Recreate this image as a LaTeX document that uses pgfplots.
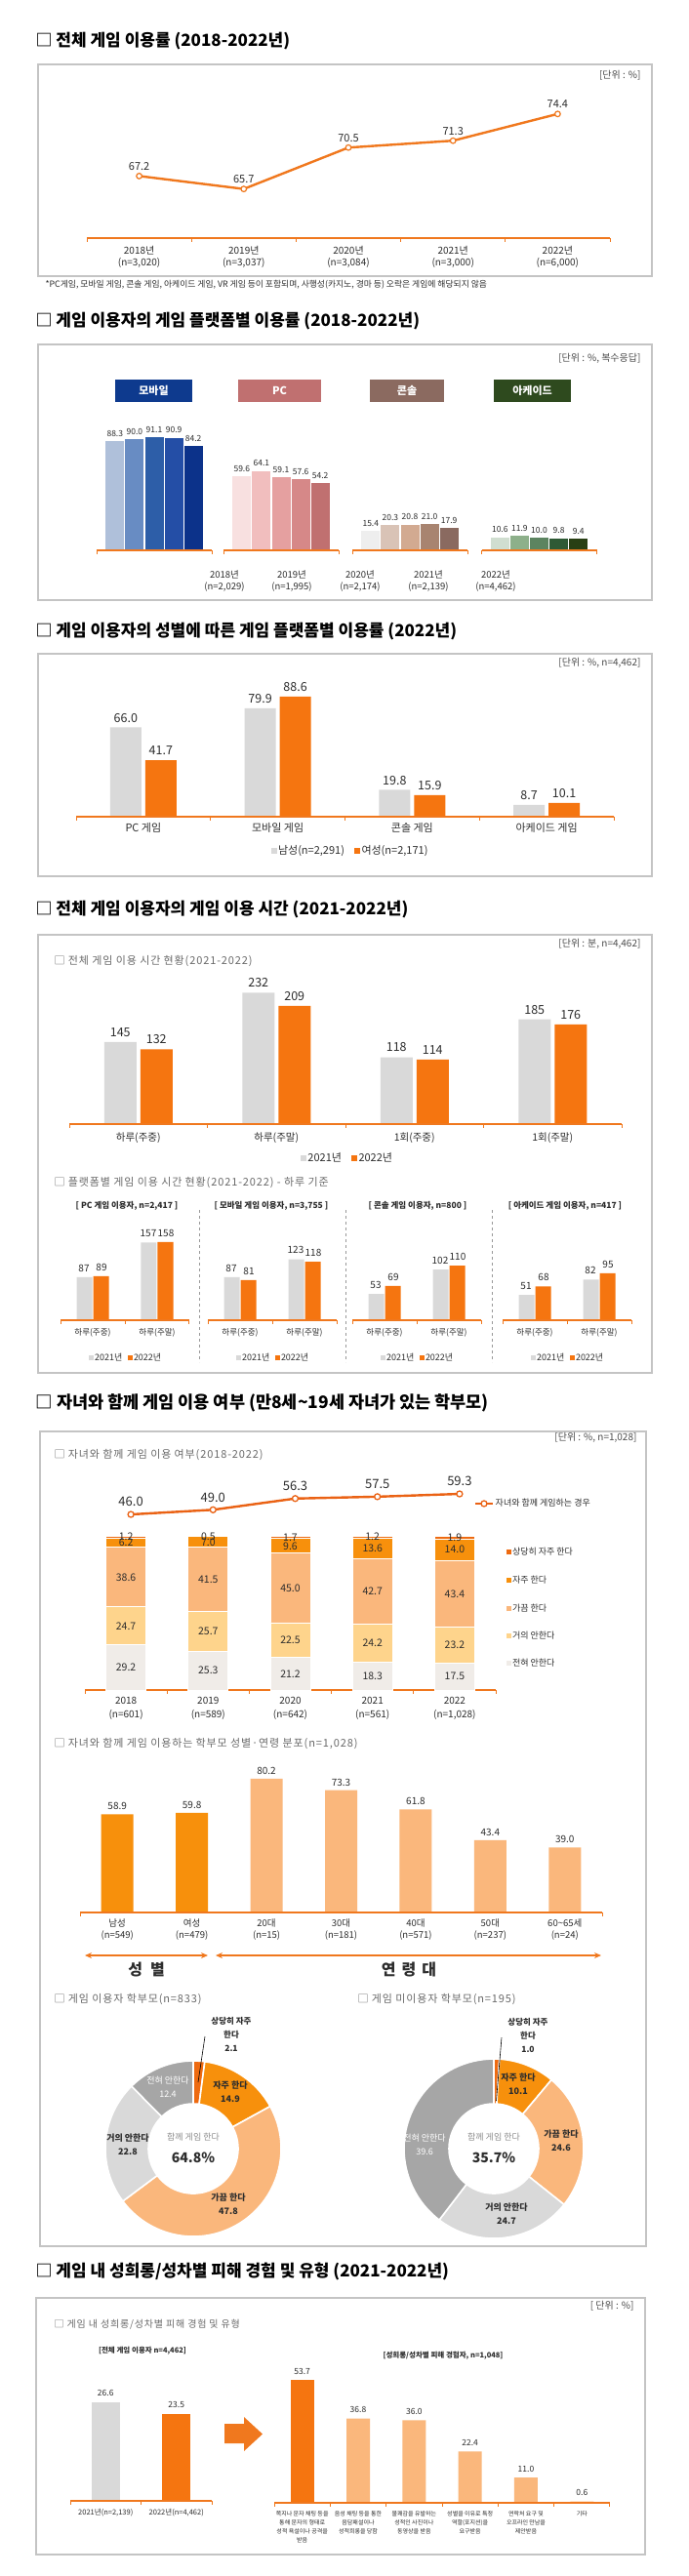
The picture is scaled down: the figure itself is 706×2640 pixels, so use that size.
\documentclass[border=0pt]{standalone}
\usepackage{pgfplots}
\pgfplotsset{compat=1.18}
\usepackage{fontspec}
\setmainfont{Noto Sans CJK KR}
\newfontfamily\subf[LetterSpace=8]{Noto Sans CJK KR}
\usetikzlibrary{arrows.meta}
\definecolor{org}{RGB}{245,117,16}
\definecolor{orgL}{RGB}{240,120,30}
\definecolor{orgR}{RGB}{234,98,20}
\definecolor{gry}{RGB}{217,217,217}
\definecolor{frm}{RGB}{196,196,196}
\definecolor{txt}{RGB}{45,45,45}
\definecolor{subc}{RGB}{105,105,105}
\definecolor{m1}{RGB}{175,192,218}
\definecolor{m2}{RGB}{104,140,195}
\definecolor{m3}{RGB}{45,94,168}
\definecolor{m4}{RGB}{36,78,166}
\definecolor{m5}{RGB}{12,50,138}
\definecolor{p1}{RGB}{248,224,224}
\definecolor{p2}{RGB}{241,190,190}
\definecolor{p3}{RGB}{229,160,160}
\definecolor{p4}{RGB}{214,136,136}
\definecolor{p5}{RGB}{192,112,112}
\definecolor{k1}{RGB}{238,238,238}
\definecolor{k2}{RGB}{217,195,182}
\definecolor{k3}{RGB}{210,170,145}
\definecolor{k4}{RGB}{168,132,112}
\definecolor{k5}{RGB}{138,106,96}
\definecolor{a1}{RGB}{208,222,208}
\definecolor{a2}{RGB}{141,176,138}
\definecolor{a3}{RGB}{92,132,96}
\definecolor{a4}{RGB}{46,90,53}
\definecolor{a5}{RGB}{40,63,20}
\definecolor{hm}{RGB}{14,58,142}
\definecolor{hp}{RGB}{192,112,112}
\definecolor{hk}{RGB}{139,106,96}
\definecolor{ha}{RGB}{46,74,30}
\definecolor{s5}{RGB}{238,106,16}
\definecolor{s4}{RGB}{247,144,12}
\definecolor{s3}{RGB}{250,183,124}
\definecolor{s2}{RGB}{254,212,140}
\definecolor{s1}{RGB}{240,236,232}
\definecolor{dg}{RGB}{166,166,166}

\newcommand\fs[1]{\fontsize{#1}{\fpeval{#1*1.22}}\selectfont}
\newcommand\sq[2]{\textcolor{#1}{\rule{#2}{#2}}\hspace{1.5pt}}
\newcommand\obase[4]{%
  \draw[orgL, line width=1.4pt] (axis cs:#1,#4) -- (axis cs:#2,#4);
  \pgfplotsinvokeforeach{#3}{\draw[orgL, line width=1pt] (axis cs:##1,#4) -- ++(0pt,-3.5pt);}%
}
\newcommand\slice[3]{%
  \fill[#3, draw=white, line width=1.6pt] ({90-3.6*#1}:\Ro) arc[start angle={90-3.6*#1}, end angle={90-3.6*#2}, radius=\Ro] -- ({90-3.6*#2}:\Ri) arc[start angle={90-3.6*#2}, end angle={90-3.6*#1}, radius=\Ri] -- cycle;%
}
\pgfplotsset{
  cat/.style={scale only axis, anchor=south west, clip=false, axis line style={draw=none}, ytick=\empty, tick style={draw=none}, major tick length=0pt, ymin=0, xticklabel style={text=txt}},
  bars/.style={every axis plot/.append style={ybar, bar width=#1, bar shift=0pt, draw=none}},
  dec1/.style={nodes near coords={\pgfmathprintnumber[fixed,fixed zerofill,precision=1,assume math mode=true]{\pgfplotspointmeta}}},
  dec0/.style={nodes near coords={\pgfmathprintnumber[fixed,precision=0,assume math mode=true]{\pgfplotspointmeta}}},
  grp/.style={scale only axis, anchor=south west, clip=false, hide axis, width=118pt, height=127pt, xmin=-0.935, xmax=4.935, ymin=0, ymax=100, bars=19pt, dec1, nodes near coords style={font=\fs{8.5}, text=txt, yshift=1pt}},
  pan/.style={cat, width=132pt, height=101.6pt, xmin=-0.5, xmax=1.5, ymax=200, xtick={0,1}, xticklabels={하루(주중),하루(주말)}, xticklabel style={font=\fs{8.5}, yshift=-5pt}, bars=16pt, dec0, nodes near coords style={font=\fs{10}, text=txt, yshift=2pt}},
  nx/.style={every node near coord/.append style={xshift=#1}},
  seglab/.style={draw=none, mark=none, nodes near coords, point meta=explicit symbolic, nodes near coords style={anchor=center, font=\fs{10.5}, text=txt, inner sep=0pt}},
}

\begin{document}
\begin{tikzpicture}
\useasboundingbox (0pt,0pt) rectangle (706pt,-2640pt);
\fill[white] (0pt,0pt) rectangle (706pt,-2640pt);

% ================= Section 1
\node[anchor=west, font=\fs{17}\bfseries, text=black] at (33pt,-42pt) {□ 전체 게임 이용률 (2018-2022년)};
\draw[frm, line width=1.3pt] (39pt,-66pt) rectangle (668pt,-283pt);
\node[anchor=east, font=\fs{10}, text=black!70] at (660pt,-77pt) {[단위 : \%]};
\begin{axis}[cat, at={(89pt,-244pt)}, width=536pt, height=159pt, xmin=-0.5, xmax=4.5, ymin=60, ymax=78,
  xtick={0,...,4},
  xticklabels={{2018년\\(n=3,020)},{2019년\\(n=3,037)},{2020년\\(n=3,084)},{2021년\\(n=3,000)},{2022년\\(n=6,000)}},
  xticklabel style={align=center, font=\fontsize{10}{12.5}\selectfont, yshift=-4.5pt}]
\addplot[orgL, line width=2.4pt, mark=*, mark size=2.8pt, mark options={fill=white, draw=orgL, line width=1.2pt}, dec1, nodes near coords style={font=\fs{11}, text=txt, yshift=2pt}] coordinates {(0,67.2) (1,65.7) (2,70.5) (3,71.3) (4,74.4)};
\obase{-0.5}{4.5}{-0.5,0.5,...,4.5}{60}
\end{axis}
\node[anchor=west, font=\fs{8.8}, text=txt] at (43pt,-292pt) {*PC게임, 모바일 게임, 콘솔 게임, 아케이드 게임, VR 게임 등이 포함되며, 사행성(카지노, 경마 등) 오락은 게임에 해당되지 않음};

% ================= Section 2
\node[anchor=west, font=\fs{17}\bfseries] at (33pt,-329pt) {□ 게임 이용자의 게임 플랫폼별 이용률 (2018-2022년)};
\draw[frm, line width=1.3pt] (39pt,-353pt) rectangle (668pt,-615pt);
\node[anchor=east, font=\fs{10}, text=black!70] at (660pt,-367pt) {[단위 : \%, 복수응답]};
\node[fill=hm, text=white, minimum width=79pt, minimum height=23pt, inner sep=0pt, font=\fs{11}\bfseries] at (157.5pt,-400.5pt) {모바일};
\node[fill=hp, text=white, minimum width=85pt, minimum height=23pt, inner sep=0pt, font=\fs{11}\bfseries] at (286.5pt,-400.5pt) {PC};
\node[fill=hk, text=white, minimum width=76pt, minimum height=23pt, inner sep=0pt, font=\fs{11}\bfseries] at (417pt,-400.5pt) {콘솔};
\node[fill=ha, text=white, minimum width=79pt, minimum height=23pt, inner sep=0pt, font=\fs{11}\bfseries] at (545.5pt,-400.5pt) {아케이드};
\begin{axis}[grp, at={(99pt,-564pt)}]
\addplot[fill=m1] coordinates {(0,88.3)};
\addplot[fill=m2] coordinates {(1,90.0)};
\addplot[fill=m3] coordinates {(2,91.1)};
\addplot[fill=m4] coordinates {(3,90.9)};
\addplot[fill=m5] coordinates {(4,84.2)};
\obase{-0.935}{4.935}{-0.935,4.935}{0}
\end{axis}
\begin{axis}[grp, at={(229pt,-564pt)}]
\addplot[fill=p1] coordinates {(0,59.6)};
\addplot[fill=p2] coordinates {(1,64.1)};
\addplot[fill=p3] coordinates {(2,59.1)};
\addplot[fill=p4] coordinates {(3,57.6)};
\addplot[fill=p5] coordinates {(4,54.2)};
\obase{-0.935}{4.935}{-0.935,4.935}{0}
\end{axis}
\begin{axis}[grp, at={(361pt,-564pt)}]
\addplot[fill=k1] coordinates {(0,15.4)};
\addplot[fill=k2] coordinates {(1,20.3)};
\addplot[fill=k3] coordinates {(2,20.8)};
\addplot[fill=k4] coordinates {(3,21.0)};
\addplot[fill=k5] coordinates {(4,17.9)};
\obase{-0.935}{4.935}{-0.935,4.935}{0}
\end{axis}
\begin{axis}[grp, at={(493.5pt,-564pt)}]
\addplot[fill=a1] coordinates {(0,10.6)};
\addplot[fill=a2] coordinates {(1,11.9)};
\addplot[fill=a3] coordinates {(2,10.0)};
\addplot[fill=a4] coordinates {(3,9.8)};
\addplot[fill=a5] coordinates {(4,9.4)};
\obase{-0.935}{4.935}{-0.935,4.935}{0}
\end{axis}
\node[align=center, font=\fontsize{9.5}{12}\selectfont, text=txt] at (230pt,-595pt) {2018년\\(n=2,029)};
\node[align=center, font=\fontsize{9.5}{12}\selectfont, text=txt] at (299pt,-595pt) {2019년\\(n=1,995)};
\node[align=center, font=\fontsize{9.5}{12}\selectfont, text=txt] at (369pt,-595pt) {2020년\\(n=2,174)};
\node[align=center, font=\fontsize{9.5}{12}\selectfont, text=txt] at (439pt,-595pt) {2021년\\(n=2,139)};
\node[align=center, font=\fontsize{9.5}{12}\selectfont, text=txt] at (508pt,-595pt) {2022년\\(n=4,462)};

% ================= Section 3
\node[anchor=west, font=\fs{17}\bfseries] at (33pt,-647pt) {□ 게임 이용자의 성별에 따른 게임 플랫폼별 이용률 (2022년)};
\draw[frm, line width=1.3pt] (39pt,-670pt) rectangle (668pt,-898pt);
\node[anchor=east, font=\fs{10}, text=black!70] at (660pt,-679pt) {[단위 : \%, n=4,462]};
\begin{axis}[cat, at={(78pt,-837pt)}, width=551pt, height=139pt, xmin=-0.5, xmax=3.5, ymax=100,
  xtick={0,...,3}, xticklabels={PC 게임,모바일 게임,콘솔 게임,아케이드 게임},
  xticklabel style={font=\fs{11}, yshift=-3pt}, bars=32pt, dec1, nodes near coords style={font=\fs{12.5}, text=txt, yshift=1.5pt}]
\addplot[fill=gry, bar shift=-18pt, nx=-18pt] coordinates {(0,66.0) (1,79.9) (2,19.8) (3,8.7)};
\addplot[fill=org, bar shift=18pt, nx=18pt] coordinates {(0,41.7) (1,88.6) (2,15.9) (3,10.1)};
\obase{-0.5}{3.5}{-0.5,0.5,...,3.5}{0}
\end{axis}
\node[font=\fs{11}, text=txt] at (358pt,-872pt) {\sq{gry}{6pt}남성(n=2,291)\hspace{10pt}\sq{org}{6pt}여성(n=2,171)};

% ================= Section 4
\node[anchor=west, font=\fs{17}\bfseries] at (33pt,-932pt) {□ 전체 게임 이용자의 게임 이용 시간 (2021-2022년)};
\draw[frm, line width=1.3pt] (39pt,-958pt) rectangle (668pt,-1407pt);
\node[anchor=east, font=\fs{10}, text=black!70] at (660pt,-967pt) {[단위 : 분, n=4,462]};
\node[anchor=west, font=\subf\fs{11}, text=subc] at (52pt,-985pt) {□ 전체 게임 이용 시간 현황(2021-2022)};
\begin{axis}[cat, at={(71pt,-1152pt)}, width=566pt, height=145pt, xmin=-0.5, xmax=3.5, ymax=250,
  xtick={0,...,3}, xticklabels={하루(주중),하루(주말),1회(주중),1회(주말)},
  xticklabel style={font=\fs{10.5}, yshift=-5pt}, bars=33pt, dec0, nodes near coords style={font=\fs{12.5}, text=txt, yshift=2pt}]
\addplot[fill=gry, bar shift=-18.5pt, nx=-18.5pt] coordinates {(0,145) (1,232) (2,118) (3,185)};
\addplot[fill=org, bar shift=18.5pt, nx=18.5pt] coordinates {(0,132) (1,209) (2,114) (3,176)};
\obase{-0.5}{3.5}{-0.5,0.5,...,3.5}{0}
\end{axis}
\node[font=\fs{11}, text=txt] at (355pt,-1186pt) {\sq{gry}{6pt}2021년\hspace{10pt}\sq{org}{6pt}2022년};
\node[anchor=west, font=\subf\fs{11}, text=subc] at (52pt,-1212pt) {□ 플랫폼별 게임 이용 시간 현황(2021-2022) - 하루 기준};
\node[font=\fs{8.5}\bfseries, text=txt] at (130pt,-1236pt) {[ PC 게임 이용자, n=2,417 ]};
\node[font=\fs{8.5}\bfseries, text=txt] at (278pt,-1236pt) {[ 모바일 게임 이용자, n=3,755 ]};
\node[font=\fs{8.5}\bfseries, text=txt] at (428pt,-1236pt) {[ 콘솔 게임 이용자, n=800 ]};
\node[font=\fs{8.5}\bfseries, text=txt] at (579pt,-1236pt) {[ 아케이드 게임 이용자, n=417 ]};
\draw[black!40, dashed, line width=0.9pt] (204pt,-1240pt) -- (204pt,-1396pt);
\draw[black!40, dashed, line width=0.9pt] (354pt,-1240pt) -- (354pt,-1396pt);
\draw[black!40, dashed, line width=0.9pt] (504pt,-1240pt) -- (504pt,-1396pt);
\begin{axis}[pan, at={(62pt,-1353pt)}]
\addplot[fill=gry, bar shift=-8.5pt, nx=-9pt] coordinates {(0,87) (1,157)};
\addplot[fill=org, bar shift=8.5pt, nx=9pt] coordinates {(0,89) (1,158)};
\obase{-0.5}{1.5}{-0.5,0.5,1.5}{0}
\end{axis}
\begin{axis}[pan, at={(213pt,-1353pt)}]
\addplot[fill=gry, bar shift=-8.5pt, nx=-9pt] coordinates {(0,87) (1,123)};
\addplot[fill=org, bar shift=8.5pt, nx=9pt] coordinates {(0,81) (1,118)};
\obase{-0.5}{1.5}{-0.5,0.5,1.5}{0}
\end{axis}
\begin{axis}[pan, at={(361pt,-1353pt)}]
\addplot[fill=gry, bar shift=-8.5pt, nx=-9pt] coordinates {(0,53) (1,102)};
\addplot[fill=org, bar shift=8.5pt, nx=9pt] coordinates {(0,69) (1,110)};
\obase{-0.5}{1.5}{-0.5,0.5,1.5}{0}
\end{axis}
\begin{axis}[pan, at={(515pt,-1353pt)}]
\addplot[fill=gry, bar shift=-8.5pt, nx=-9pt] coordinates {(0,51) (1,82)};
\addplot[fill=org, bar shift=8.5pt, nx=9pt] coordinates {(0,68) (1,95)};
\obase{-0.5}{1.5}{-0.5,0.5,1.5}{0}
\end{axis}
\node[font=\fs{9}, text=txt] at (128pt,-1391pt) {\sq{gry}{5pt}2021년\hspace{5pt}\sq{org}{5pt}2022년};
\node[font=\fs{9}, text=txt] at (279pt,-1391pt) {\sq{gry}{5pt}2021년\hspace{5pt}\sq{org}{5pt}2022년};
\node[font=\fs{9}, text=txt] at (427pt,-1391pt) {\sq{gry}{5pt}2021년\hspace{5pt}\sq{org}{5pt}2022년};
\node[font=\fs{9}, text=txt] at (581pt,-1391pt) {\sq{gry}{5pt}2021년\hspace{5pt}\sq{org}{5pt}2022년};

% ================= Section 5
\node[anchor=west, font=\fs{17.5}\bfseries] at (33pt,-1438pt) {□ 자녀와 함께 게임 이용 여부 (만8세\textasciitilde19세 자녀가 있는 학부모)};
\draw[frm, line width=1.3pt] (41pt,-1467pt) rectangle (662pt,-2302pt);
\node[anchor=east, font=\fs{10}, text=black!70] at (656pt,-1473pt) {[단위 : \%, n=1,028]};
\node[anchor=west, font=\subf\fs{11}, text=subc] at (52pt,-1491pt) {□ 자녀와 함께 게임 이용 여부(2018-2022)};
\begin{axis}[scale only axis, anchor=south west, hide axis, clip=false, at={(92pt,-1561.5pt)}, width=421pt, height=31.6pt,
  xmin=-0.5, xmax=4.5, ymin=40, ymax=60,
  legend style={at={(0.936,0.65)}, anchor=west, draw=none, fill=none, font=\fs{9}, text=txt, inner sep=0pt}]
\addplot[orgR, line width=2.4pt, mark=*, mark size=3pt, mark options={fill=white, draw=orgR, line width=1.3pt}, dec1, nodes near coords style={font=\fs{13}, text=txt, yshift=4pt}] coordinates {(0,46.0) (1,49.0) (2,56.3) (3,57.5) (4,59.3)};
\addlegendentry{자녀와 함께 게임하는 경우}
\end{axis}
\begin{axis}[cat, at={(87pt,-1732pt)}, width=421pt, height=158pt, xmin=-0.5, xmax=4.5, ymax=100,
  ybar stacked, bar width=41pt, xtick={0,...,4},
  xticklabels={{2018\\(n=601)},{2019\\(n=589)},{2020\\(n=642)},{2021\\(n=561)},{2022\\(n=1,028)}},
  xticklabel style={align=center, font=\fontsize{10}{14}\selectfont, yshift=-4pt},
  every axis plot/.append style={draw=white, line width=0.8pt}]
\addplot[fill=s1] coordinates {(0,29.2) (1,25.3) (2,21.2) (3,18.3) (4,17.5)};
\addplot[fill=s2] coordinates {(0,24.7) (1,25.7) (2,22.5) (3,24.2) (4,23.2)};
\addplot[fill=s3] coordinates {(0,38.6) (1,41.5) (2,45.0) (3,42.7) (4,43.4)};
\addplot[fill=s4] coordinates {(0,6.2) (1,7.0) (2,9.6) (3,13.6) (4,14.0)};
\addplot[fill=s5, dec1, nodes near coords style={font=\fs{10.5}, text=txt, inner sep=1.5pt}] coordinates {(0,1.2) (1,0.5) (2,1.7) (3,1.2) (4,1.9)};
\obase{-0.5}{4.5}{-0.5,0.5,...,4.5}{0}
\end{axis}
% segment labels, placed at the middle of each segment
\begin{axis}[scale only axis, anchor=south west, hide axis, clip=false, at={(87pt,-1732pt)}, width=421pt, height=158pt, xmin=-0.5, xmax=4.5, ymin=0, ymax=100]
\addplot[seglab] coordinates {(0,14.6)[29.2] (1,12.65)[25.3] (2,10.6)[21.2] (3,9.15)[18.3] (4,8.75)[17.5]};
\addplot[seglab] coordinates {(0,41.55)[24.7] (1,38.15)[25.7] (2,32.45)[22.5] (3,30.4)[24.2] (4,29.1)[23.2]};
\addplot[seglab] coordinates {(0,73.2)[38.6] (1,71.75)[41.5] (2,66.2)[45.0] (3,63.85)[42.7] (4,62.4)[43.4]};
\addplot[seglab] coordinates {(0,95.6)[6.2] (1,96.0)[7.0] (2,93.5)[9.6] (3,92.0)[13.6] (4,91.1)[14.0]};
\end{axis}
\node[anchor=west, font=\fs{9}, text=txt] at (515pt,-1590pt) {\sq{s5}{5pt}상당히 자주 한다};
\node[anchor=west, font=\fs{9}, text=txt] at (515pt,-1619pt) {\sq{s4}{5pt}자주 한다};
\node[anchor=west, font=\fs{9}, text=txt] at (515pt,-1648pt) {\sq{s3}{5pt}가끔 한다};
\node[anchor=west, font=\fs{9}, text=txt] at (515pt,-1676pt) {\sq{s2}{5pt}거의 안한다};
\node[anchor=west, font=\fs{9}, text=txt] at (515pt,-1704pt) {\sq{s1}{5pt}전혀 안한다};

\node[anchor=west, font=\subf\fs{11}, text=subc] at (52pt,-1787pt) {□ 자녀와 함께 게임 이용하는 학부모 성별·연령 분포(n=1,028)};
\begin{axis}[cat, at={(82pt,-1960pt)}, width=535pt, height=171pt, xmin=-0.5, xmax=6.5, ymax=100,
  xtick={0,...,6},
  xticklabels={{남성\\(n=549)},{여성\\(n=479)},{20대\\(n=15)},{30대\\(n=181)},{40대\\(n=571)},{50대\\(n=237)},{60\textasciitilde65세\\(n=24)}},
  xticklabel style={align=center, font=\fontsize{9.5}{12}\selectfont, yshift=-3pt},
  bars=33pt, dec1, nodes near coords style={font=\fs{10}, text=txt, yshift=1pt}]
\addplot[fill=s4] coordinates {(0,58.9) (1,59.8)};
\addplot[fill=s3] coordinates {(2,80.2) (3,73.3) (4,61.8) (5,43.4) (6,39.0)};
\obase{-0.5}{6.5}{-0.5,6.5}{0}
\end{axis}
\draw[orgL, line width=1.6pt, {Stealth[length=7pt,width=6pt]}-{Stealth[length=7pt,width=6pt]}] (87pt,-2004pt) -- (213pt,-2004pt);
\draw[orgL, line width=1.6pt, {Stealth[length=7pt,width=6pt]}-{Stealth[length=7pt,width=6pt]}] (221pt,-2004pt) -- (616pt,-2004pt);
\node[font=\fs{16}\bfseries, text=txt] at (150pt,-2018pt) {성\hspace{8pt}별};
\node[font=\fs{16}\bfseries, text=txt] at (419pt,-2018pt) {연\hspace{6pt}령\hspace{6pt}대};
\node[anchor=west, font=\subf\fs{11}, text=subc] at (52pt,-2049pt) {□ 게임 이용자 학부모(n=833)};
\node[anchor=west, font=\subf\fs{11}, text=subc] at (363pt,-2049pt) {□ 게임 미이용자 학부모(n=195)};

% donut 1
\def\Ro{90pt}\def\Ri{46pt}
\begin{axis}[scale only axis, hide axis, clip=false, anchor=south west, at={(98pt,-2302pt)}, width=200pt, height=200pt, xmin=-100, xmax=100, ymin=-100, ymax=100]
\begin{scope}[shift={(axis cs:0,0)}]
\slice{0}{2.1}{s5}
\slice{2.1}{17.0}{s4}
\slice{17.0}{64.8}{s3}
\slice{64.8}{87.6}{gry}
\slice{87.6}{100}{dg}
\end{scope}
\end{axis}
\node[align=center, font=\fontsize{8.5}{14}\selectfont\bfseries, text=txt] at (237pt,-2085pt) {상당히 자주\\한다\\2.1};
\draw[black, line width=0.6pt] (210pt,-2087pt) -- (203pt,-2134pt);
\node[align=center, font=\fontsize{9}{14}\selectfont\bfseries, text=txt] at (236pt,-2144pt) {자주 한다\\14.9};
\node[align=center, font=\fontsize{9}{14}\selectfont\bfseries, text=txt] at (234pt,-2259pt) {가끔 한다\\47.8};
\node[align=center, font=\fontsize{9}{14}\selectfont\bfseries, text=txt] at (131pt,-2198pt) {거의 안한다\\22.8};
\node[align=center, font=\fontsize{9}{14}\selectfont, text=white] at (172pt,-2139pt) {전혀 안한다\\12.4};
\node[font=\fs{9}, text=black!45] at (198pt,-2190pt) {함께 게임 한다};
\node[font=\fs{14}\bfseries, text=txt] at (198pt,-2211pt) {64.8\%};

% donut 2
\def\Ro{92pt}\def\Ri{46pt}
\begin{axis}[scale only axis, hide axis, clip=false, anchor=south west, at={(406pt,-2302pt)}, width=200pt, height=200pt, xmin=-100, xmax=100, ymin=-100, ymax=100]
\begin{scope}[shift={(axis cs:0,0)}]
\slice{0}{1.0}{s5}
\slice{1.0}{11.1}{s4}
\slice{11.1}{35.7}{s3}
\slice{35.7}{60.4}{gry}
\slice{60.4}{100}{dg}
\end{scope}
\end{axis}
\node[align=center, font=\fontsize{8.5}{14}\selectfont\bfseries, text=txt] at (541pt,-2086pt) {상당히 자주\\한다\\1.0};
\draw[black, line width=0.6pt] (514pt,-2088pt) -- (508.5pt,-2153pt);
\node[align=center, font=\fontsize{9}{14}\selectfont\bfseries, text=txt] at (531pt,-2136pt) {자주 한다\\10.1};
\node[align=center, font=\fontsize{9}{14}\selectfont\bfseries, text=txt] at (575pt,-2194pt) {가끔 한다\\24.6};
\node[align=center, font=\fontsize{9}{14}\selectfont\bfseries, text=txt] at (519pt,-2269pt) {거의 안한다\\24.7};
\node[align=center, font=\fontsize{9}{14}\selectfont, text=white] at (435pt,-2198pt) {전혀 안한다\\39.6};
\node[font=\fs{9}, text=black!45] at (506pt,-2190pt) {함께 게임 한다};
\node[font=\fs{14}\bfseries, text=txt] at (506pt,-2211pt) {35.7\%};

% ================= Section 6
\node[anchor=west, font=\fs{17}\bfseries] at (33pt,-2328pt) {□ 게임 내 성희롱/성차별 피해 경험 및 유형 (2021-2022년)};
\draw[frm, line width=1.3pt] (37pt,-2355pt) rectangle (661pt,-2618pt);
\node[anchor=east, font=\fs{10}, text=black!70] at (653pt,-2363pt) {[ 단위 : \%]};
\node[anchor=west, font=\subf\fs{10}, text=subc] at (52pt,-2382pt) {□ 게임 내 성희롱/성차별 피해 경험 및 유형};
\node[font=\fs{7.5}\bfseries, text=txt] at (146pt,-2409pt) {[전체 게임 이용자 n=4,462]};
\begin{axis}[cat, at={(72pt,-2563pt)}, width=145pt, height=114pt, xmin=-0.5, xmax=1.5, ymax=30,
  xtick={0,1}, xticklabels={{2021년(n=2,139)},{2022년(n=4,462)}},
  xticklabel style={font=\fs{7.5}, yshift=-5pt}, bars=29pt, dec1, nodes near coords style={font=\fs{8.5}, text=txt, yshift=3pt}]
\addplot[fill=gry] coordinates {(0,26.6)};
\addplot[fill=org] coordinates {(1,23.5)};
\obase{-0.5}{1.5}{-0.5,0.5,1.5}{0}
\end{axis}
\fill[orgL] (230pt,-2484pt) -- (250pt,-2484pt) -- (250pt,-2477pt) -- (269pt,-2494.5pt) -- (250pt,-2512pt) -- (250pt,-2504pt) -- (230pt,-2504pt) -- cycle;
\node[font=\fs{7.5}\bfseries, text=txt] at (454pt,-2414pt) {[성희롱/성차별 피해 경험자, n=1,048]};
\begin{axis}[cat, at={(281pt,-2565pt)}, width=344pt, height=141pt, xmin=-0.5, xmax=5.5, ymax=60,
  xtick={0,...,5},
  xticklabels={{쪽지나 문자 채팅 등을\\통해 문자의 형태로\\성적 욕설이나 공격을\\받음},{음성 채팅 등을 통한\\음담패설이나\\성적희롱을 당함},{불쾌감을 유발하는\\성적인 사진이나\\동영상을 받음},{성별을 이유로 특정\\역할(포지션)을\\요구받음},{연락처 요구 및\\오프라인 만남을\\제안받음},{기타}},
  xticklabel style={align=center, font=\fontsize{6}{9}\selectfont, yshift=-5pt},
  bars=24pt, dec1, nodes near coords style={font=\fs{8.5}, text=txt, yshift=2pt}]
\addplot[fill=org] coordinates {(0,53.7)};
\addplot[fill=s3] coordinates {(1,36.8) (2,36.0) (3,22.4) (4,11.0) (5,0.6)};
\obase{-0.5}{5.5}{-0.5,0.5,...,5.5}{0}
\end{axis}
\end{tikzpicture}
\end{document}
